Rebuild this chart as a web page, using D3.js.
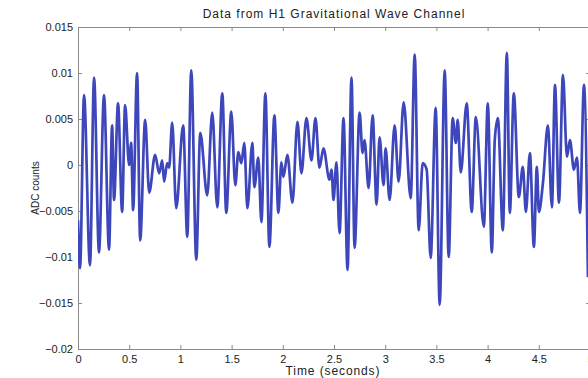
<!DOCTYPE html>
<html>
<head>
<meta charset="utf-8">
<script src="https://cdn.jsdelivr.net/npm/d3@7"></script>
<style>
  body { margin: 0; background: #fff; }
  svg { font-family: "Liberation Sans", Arial, sans-serif; }
  .axis path, .axis line { stroke: #8a8a8a; }
  .axis text { fill: #222; font-size: 11px; }
</style>
</head>
<body>
<svg id="chart" width="588" height="378"></svg>
<script>
// Time samples (seconds) of the traced extrema
var times = [0, 0.020, 0.059, 0.117, 0.157, 0.205, 0.254, 0.303, 0.333, 0.352,
  0.391, 0.431, 0.460, 0.499, 0.519, 0.538, 0.577, 0.607, 0.656, 0.695,
  0.753, 0.793, 0.822, 0.841, 0.871, 0.890, 0.920, 0.959, 1.027, 1.067,
  1.106, 1.155, 1.194, 1.262, 1.311, 1.360, 1.409, 1.448, 1.497, 1.536,
  1.566, 1.595, 1.624, 1.654, 1.703, 1.722, 1.761, 1.791, 1.830, 1.869,
  1.918, 1.957, 1.986, 2.006, 2.045, 2.094, 2.143, 2.182, 2.231, 2.280,
  2.319, 2.358, 2.397, 2.456, 2.476, 2.495, 2.524, 2.554, 2.593, 2.632,
  2.671, 2.701, 2.750, 2.779, 2.798, 2.838, 2.877, 2.916, 2.945, 2.984,
  3.004, 3.043, 3.092, 3.131, 3.180, 3.249, 3.288, 3.327, 3.366, 3.405,
  3.444, 3.493, 3.532, 3.581, 3.620, 3.659, 3.689, 3.708, 3.738, 3.796,
  3.845, 3.885, 3.963, 4.002, 4.041, 4.070, 4.100, 4.149, 4.188, 4.217,
  4.256, 4.305, 4.344, 4.374, 4.413, 4.452, 4.481, 4.501, 4.540, 4.589,
  4.628, 4.658, 4.697, 4.736, 4.775, 4.804, 4.843, 4.873, 4.902, 4.941,
  4.980];

// Strain channel readings (ADC counts) at those times
var counts = [-0.0060, -0.0112, 0.0076, -0.0109, 0.0095, -0.0095, 0.0076, -0.0092, 0.0043, -0.0038,
  0.0067, -0.0051, 0.0065, 0.0000, 0.0024, -0.0049, 0.0100, -0.0082, 0.0049, -0.0030,
  0.0011, -0.0009, 0.0005, -0.0018, 0.0002, -0.0003, 0.0046, -0.0047, 0.0043, -0.0078,
  0.0103, -0.0103, 0.0035, -0.0033, 0.0057, -0.0046, 0.0078, -0.0052, 0.0058, -0.0022,
  0.0014, 0.0002, 0.0024, -0.0047, 0.0024, -0.0024, 0.0008, -0.0062, 0.0078, -0.0089,
  0.0054, -0.0052, 0.0003, -0.0013, 0.0011, -0.0041, 0.0047, -0.0009, 0.0051, 0.0005,
  0.0051, -0.0003, 0.0018, -0.0016, -0.0005, -0.0038, 0.0003, -0.0074, 0.0051, -0.0114,
  0.0095, -0.0090, 0.0057, 0.0013, 0.0027, -0.0025, 0.0054, -0.0043, 0.0030, -0.0022,
  0.0018, -0.0038, 0.0043, -0.0018, 0.0068, -0.0036, 0.0120, -0.0071, 0.0002, -0.0005,
  -0.0101, 0.0062, -0.0152, 0.0103, -0.0100, 0.0051, 0.0024, 0.0049, -0.0008, 0.0067,
  -0.0051, 0.0052, -0.0067, 0.0067, -0.0095, 0.0027, 0.0051, -0.0071, 0.0122, -0.0052,
  0.0078, -0.0035, -0.0002, -0.0051, 0.0013, -0.0089, -0.0002, -0.0051, -0.0020, 0.0043,
  -0.0046, 0.0087, -0.0041, 0.0098, 0.0009, 0.0027, -0.0005, 0.0008, -0.0052, 0.0087,
  -0.0122];

var xTicks = [0, 0.5, 1, 1.5, 2, 2.5, 3, 3.5, 4, 4.5, 5];
var yTicks = [-0.02, -0.015, -0.01, -0.005, 0, 0.005, 0.01, 0.015];

var margin = { top: 27, right: -2, bottom: 29, left: 78 };
var width = 588 - margin.left - margin.right;
var height = 378 - margin.top - margin.bottom;

var svg = d3.select('#chart');
var g = svg.append('g')
  .attr('transform', 'translate(' + margin.left + ',' + margin.top + ')');

var xScale = d3.scaleLinear().domain([0, 5]).range([0, width]);
var yScale = d3.scaleLinear().domain([-0.02, 0.015]).range([height, 0]);

var fmt = function(d) { return d3.format('')(d).replace('-', '\u2212'); };

// Bottom / left axes with labels, ticks point inward (matlab style)
g.append('g').attr('class', 'x axis')
  .attr('transform', 'translate(0,' + height + ')')
  .call(d3.axisBottom(xScale).tickValues(xTicks).tickSizeInner(-4).tickSizeOuter(0).tickPadding(6).tickFormat(fmt));
g.append('g').attr('class', 'y axis')
  .call(d3.axisLeft(yScale).tickValues(yTicks).tickSizeInner(-4).tickSizeOuter(0).tickPadding(5).tickFormat(fmt));
// Top / right axes, ticks only
g.append('g').attr('class', 'axis')
  .call(d3.axisTop(xScale).tickValues(xTicks).tickSizeInner(-4).tickSizeOuter(0).tickFormat(''));
g.append('g').attr('class', 'axis')
  .attr('transform', 'translate(' + width + ',0)')
  .call(d3.axisRight(yScale).tickValues(yTicks).tickSizeInner(-4).tickSizeOuter(0).tickFormat(''));

g.append('clipPath').attr('id', 'clip')
  .append('rect').attr('width', width).attr('height', height);

var data = times.map(function(t, i) { return { t: t, v: counts[i] }; });
var line = d3.line().curve(d3.curveMonotoneX)
  .x(function(d) { return xScale(d.t); })
  .y(function(d) { return yScale(d.v); });

g.append('path')
  .datum(data)
  .attr('clip-path', 'url(#clip)')
  .attr('d', line)
  .attr('fill', 'none')
  .attr('stroke', '#3d47bb')
  .attr('stroke-width', 2.7)
  .attr('stroke-linejoin', 'round');

// Titles
svg.append('text')
  .attr('x', margin.left + width / 2).attr('y', 18)
  .attr('text-anchor', 'middle')
  .style('font-size', '12px').style('fill', '#222').style('letter-spacing', '1px')
  .text('Data from H1 Gravitational Wave Channel');
svg.append('text')
  .attr('x', margin.left + width / 2 - 1).attr('y', 375)
  .attr('text-anchor', 'middle')
  .style('font-size', '12px').style('fill', '#222').style('letter-spacing', '0.9px')
  .text('Time (seconds)');
svg.append('text')
  .attr('transform', 'translate(39,' + (margin.top + height / 2) + ') rotate(-90)')
  .attr('text-anchor', 'middle')
  .style('font-size', '10px').style('fill', '#222')
  .text('ADC counts');
</script>
</body>
</html>
